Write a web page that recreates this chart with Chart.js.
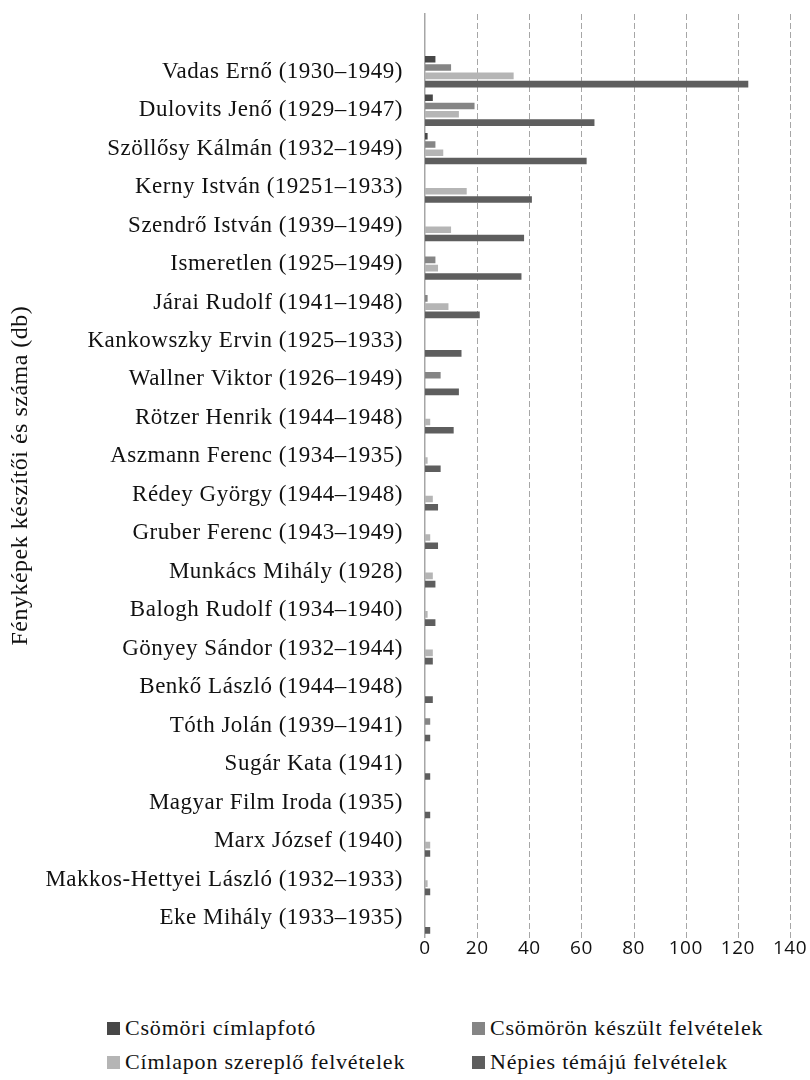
<!DOCTYPE html>
<html>
<head>
<meta charset="utf-8">
<script src="https://cdn.jsdelivr.net/npm/chart.js@4"></script>
<style>
  body { margin: 0; background: #ffffff; width: 810px; height: 1080px; overflow: hidden; }
  #wrap { position: relative; width: 810px; height: 962px; }
  #legend {
    position: absolute; left: 0; top: 1015px; width: 810px;
    font-family: "Liberation Serif", "DejaVu Serif", serif; font-size: 22px;
    letter-spacing: 0.8px; color: #111;
  }
  .item { position: absolute; display: flex; align-items: center; white-space: nowrap; }
  .box { width: 13px; height: 13px; margin-right: 5px; }
</style>
</head>
<body>
<div id="wrap"><canvas id="chart"></canvas></div>
<div id="legend"></div>
<script>
const CATEGORIES = [
  "",
  "Vadas Ernő (1930–1949)",
  "Dulovits Jenő (1929–1947)",
  "Szöllősy Kálmán (1932–1949)",
  "Kerny István (19251–1933)",
  "Szendrő István (1939–1949)",
  "Ismeretlen (1925–1949)",
  "Járai Rudolf (1941–1948)",
  "Kankowszky Ervin (1925–1933)",
  "Wallner Viktor (1926–1949)",
  "Rötzer Henrik (1944–1948)",
  "Aszmann Ferenc (1934–1935)",
  "Rédey György (1944–1948)",
  "Gruber Ferenc (1943–1949)",
  "Munkács Mihály (1928)",
  "Balogh Rudolf (1934–1940)",
  "Gönyey Sándor (1932–1944)",
  "Benkő László (1944–1948)",
  "Tóth Jolán (1939–1941)",
  "Sugár Kata (1941)",
  "Magyar Film Iroda (1935)",
  "Marx József (1940)",
  "Makkos-Hettyei László (1932–1933)",
  "Eke Mihály (1933–1935)",
];

const CSOMORI_CIMLAP = [null, 4, 3, 1, 0, 0, 0, 0, 0, 0, 0, 0, 0, 0, 0, 0, 0, 0, 0, 0, 0, 0, 0, 0];
const CSOMORON_KESZULT = [null, 10, 19, 4, 0, 0, 4, 1, 0, 6, 0, 0, 0, 0, 0, 0, 0, 0, 2, 0, 0, 0, 0, 0];
const CIMLAPON_SZEREPLO = [null, 34, 13, 7, 16, 10, 5, 9, 0, 0, 2, 1, 3, 2, 3, 1, 3, 0, 0, 0, 0, 2, 1, 0];
const NEPIES_TEMAJU = [null, 124, 65, 62, 41, 38, 37, 21, 14, 13, 11, 6, 5, 5, 4, 4, 3, 3, 2, 2, 2, 2, 2, 2];

const X_TICKS = [0, 20, 40, 60, 80, 100, 120, 140];

const SERIES = [
  { label: "Csömöri címlapfotó", data: CSOMORI_CIMLAP, color: "#474747" },
  { label: "Csömörön készült felvételek", data: CSOMORON_KESZULT, color: "#858585" },
  { label: "Címlapon szereplő felvételek", data: CIMLAPON_SZEREPLO, color: "#b5b5b5" },
  { label: "Népies témájú felvételek", data: NEPIES_TEMAJU, color: "#5e5e5e" },
];

const SERIF = "'Liberation Serif', 'DejaVu Serif', serif";

// dashed vertical grid lines, drawn from the x scale
const dashedGrid = {
  id: "dashedGrid",
  beforeDatasetsDraw(chart) {
    const { ctx, chartArea } = chart;
    const x = chart.scales.x;
    ctx.save();
    ctx.strokeStyle = "#a6a6a6";
    ctx.lineWidth = 1;
    ctx.setLineDash([6, 3]);
    X_TICKS.slice(1).forEach((v) => {
      const px = Math.round(x.getPixelForValue(v)) + 0.5;
      ctx.beginPath();
      ctx.moveTo(px, chartArea.top);
      ctx.lineTo(px, chartArea.bottom + 3);
      ctx.stroke();
    });
    ctx.restore();
  },
};

// a little letter spacing to get closer to the wider Garamond of the original
const spacing = {
  id: "spacing",
  beforeDraw(chart) {
    chart.ctx.letterSpacing = "0.5px";
  },
  beforeLayout(chart) {
    chart.ctx.letterSpacing = "0.5px";
  },
};

new Chart(document.getElementById("chart"), {
  type: "bar",
  data: {
    labels: CATEGORIES,
    datasets: SERIES.map((s) => ({
      label: s.label,
      data: s.data,
      backgroundColor: s.color,
      borderWidth: 0,
      categoryPercentage: 0.86,
      barPercentage: 0.8,
    })),
  },
  options: {
    indexAxis: "y",
    responsive: true,
    maintainAspectRatio: false,
    animation: false,
    layout: { padding: { top: 14, right: 20, bottom: 2, left: 0 } },
    plugins: {
      legend: { display: false },
      tooltip: { enabled: false },
    },
    scales: {
      x: {
        min: 0,
        max: 140,
        afterBuildTicks: (scale) => {
          scale.ticks = X_TICKS.map((v) => ({ value: v }));
        },
        grid: { display: false, drawTicks: false },
        border: { display: false },
        ticks: {
          color: "#111",
          padding: 0,
          font: { family: "'Open Sans', 'Noto Sans', sans-serif", size: 19 },
        },
      },
      y: {
        grid: { display: false, drawTicks: false },
        border: { display: true, color: "#a6a6a6", width: 1.5 },
        afterFit: (scale) => {
          scale.width = 425;
          scale.paddingTop = 0;
          scale.paddingBottom = 0;
        },
        ticks: {
          color: "#111",
          padding: 22,
          autoSkip: false,
          font: { family: SERIF, size: 23 },
        },
        title: {
          display: true,
          text: "Fényképek készítői és száma (db)",
          color: "#111",
          padding: { top: 6, bottom: 0 },
          font: { family: SERIF, size: 24 },
        },
      },
    },
  },
  plugins: [dashedGrid, spacing],
});

const legend = document.getElementById("legend");
const positions = [
  { left: 107, top: 0 },
  { left: 472, top: 0 },
  { left: 107, top: 34 },
  { left: 472, top: 34 },
];
SERIES.forEach((s, i) => {
  const item = document.createElement("div");
  item.className = "item";
  item.style.left = positions[i].left + "px";
  item.style.top = positions[i].top + "px";
  item.innerHTML = `<span class="box" style="background:${s.color}"></span><span>${s.label}</span>`;
  legend.appendChild(item);
});
</script>
</body>
</html>
